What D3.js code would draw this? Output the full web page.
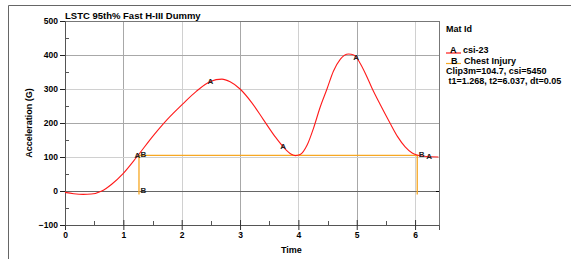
<!DOCTYPE html>
<html>
<head>
<meta charset="utf-8">
<script src="https://cdn.jsdelivr.net/npm/d3@7"></script>
<style>
  body { margin: 0; background: #fff; }
  svg { display: block; font-family: "Liberation Sans", Arial, sans-serif; }
  .tick text { font-size: 8.5px; font-weight: bold; fill: #000; }
</style>
</head>
<body>
<svg id="chart"></svg>
<script>
// curve A: csi-23 acceleration (G) vs time
const timeA = [0, 0.15, 0.31, 0.45, 0.63, 0.8, 1.0, 1.23, 1.5, 1.75, 2.03, 2.25, 2.49, 2.69, 2.83, 3.0, 3.2, 3.4, 3.6, 3.75, 3.88, 3.95, 4.03, 4.15, 4.26, 4.37, 4.49, 4.6, 4.72, 4.86, 4.95, 5.05, 5.15, 5.26, 5.4, 5.57, 5.7, 5.83, 5.95, 6.03, 6.15, 6.4];
const accelA = [-4, -8, -10, -9, 0, 20, 52, 100, 160, 210, 258, 293, 322, 329, 321, 300, 260, 210, 160, 128, 108, 104, 107, 135, 185, 245, 300, 352, 388, 403, 400, 378, 345, 303, 255, 200, 160, 130, 112, 106, 102, 100];
// curve B: chest injury window
const timeB = [1.268, 1.268, 6.037, 6.037];
const accelB = [-10, 104.7, 104.7, -10];
// marker labels
const labelTimesA = [1.24, 2.49, 3.74, 4.99, 6.24];
const labelTimesB = [1.268, 1.268, 6.037];
const labelValuesB = [104.7, 0, 104.7];

const xTicks = [0, 1, 2, 3, 4, 5, 6];
const xMinor = [0.5, 1.5, 2.5, 3.5, 4.5, 5.5];
const yTicks = [-100, 0, 100, 200, 300, 400, 500];
const yMinor = [-50, 50, 150, 250, 350, 450];

const legendLines = ["Clip3m=104.7, csi=5450", " t1=1.268, t2=6.037, dt=0.05"];

const W = 571, H = 259;
const margin = { top: 21, right: 132, bottom: 34, left: 65 };
const width = W - margin.left - margin.right;
const height = H - margin.top - margin.bottom;

const svg = d3.select("#chart").attr("width", W).attr("height", H);

// outer frame
svg.append("path")
  .attr("d", `M8.5,${H} V5.5 H${W}`)
  .attr("fill", "none")
  .attr("stroke", "#666");

const g = svg.append("g")
  .attr("transform", `translate(${margin.left},${margin.top})`);

const x = d3.scaleLinear().domain([0, 6.41]).range([0, width]);
const y = d3.scaleLinear().domain([-100, 500]).range([height, 0]);

// grid
g.selectAll(".vgrid").data(xTicks.slice(1)).enter().append("line")
  .attr("x1", d => Math.round(x(d)) + 0.5).attr("x2", d => Math.round(x(d)) + 0.5)
  .attr("y1", 0).attr("y2", height)
  .attr("stroke", (d, i) => i % 2 ? "#d0d0d0" : "#a8a8a8");
g.selectAll(".hgrid").data(yTicks.filter(d => d > -100 && d < 500 && d !== 0)).enter().append("line")
  .attr("x1", 0).attr("x2", width)
  .attr("y1", d => Math.round(y(d)) + 0.5).attr("y2", d => Math.round(y(d)) + 0.5)
  .attr("stroke", (d, i) => i % 2 ? "#a8a8a8" : "#d0d0d0");

// zero line
g.append("line")
  .attr("x1", 0).attr("x2", width)
  .attr("y1", Math.round(y(0)) + 0.5).attr("y2", Math.round(y(0)) + 0.5)
  .attr("stroke", "#666");
g.append("line")
  .attr("x1", width - 3).attr("x2", width)
  .attr("y1", Math.round(y(0)) + 0.5).attr("y2", Math.round(y(0)) + 0.5)
  .attr("stroke", "#000");

// plot frame
g.append("rect")
  .attr("x", 0.5).attr("y", 0.5)
  .attr("width", width).attr("height", height)
  .attr("fill", "none").attr("stroke", "#777");

// minor ticks
g.selectAll(".xminor").data(xMinor).enter().append("line")
  .attr("x1", d => Math.round(x(d)) + 0.5).attr("x2", d => Math.round(x(d)) + 0.5)
  .attr("y1", height).attr("y2", height - 4)
  .attr("stroke", "#555");
g.selectAll(".yminor").data(yMinor).enter().append("line")
  .attr("x1", 0).attr("x2", 4)
  .attr("y1", d => Math.round(y(d)) + 0.5).attr("y2", d => Math.round(y(d)) + 0.5)
  .attr("stroke", "#555");

// axes
const xAxis = g.append("g")
  .attr("transform", `translate(0,${height})`)
  .call(d3.axisBottom(x).tickValues(xTicks).tickFormat(d3.format("d")).tickSize(5).tickPadding(2));
xAxis.select(".domain").attr("stroke", "#555");
xAxis.selectAll(".tick line").attr("y1", -5).attr("stroke", "#333");

const yAxis = g.append("g")
  .call(d3.axisLeft(y).tickValues(yTicks).tickFormat(d3.format("d")).tickSize(5).tickPadding(2));
yAxis.select(".domain").attr("stroke", "#555");
yAxis.selectAll(".tick line").attr("stroke", "#222");

// curves
const dataA = timeA.map((t, i) => [t, accelA[i]]);
const dataB = timeB.map((t, i) => [t, accelB[i]]);

g.append("path")
  .datum(dataB)
  .attr("fill", "none")
  .attr("stroke", "#f7a823")
  .attr("stroke-width", 1.3)
  .attr("d", d3.line().x(d => x(d[0])).y(d => y(d[1])));

g.append("path")
  .datum(dataA)
  .attr("fill", "none")
  .attr("stroke", "#ff1a1a")
  .attr("stroke-width", 1.1)
  .attr("d", d3.line().curve(d3.curveMonotoneX).x(d => x(d[0])).y(d => y(d[1])));

// curve labels
const interpA = t => {
  const i = d3.bisectRight(timeA, t);
  const t0 = timeA[i - 1], t1 = timeA[i];
  return accelA[i - 1] + (accelA[i] - accelA[i - 1]) * (t - t0) / (t1 - t0);
};
g.selectAll(".labA").data(labelTimesA).enter().append("text")
  .attr("x", d => x(d))
  .attr("y", d => y(interpA(d)) + 2)
  .attr("text-anchor", "middle")
  .attr("font-size", 8)
  .attr("font-weight", "bold")
  .attr("fill", "#222")
  .text("A");
g.selectAll(".labB").data(labelTimesB).enter().append("text")
  .attr("x", d => x(d) + 1.5)
  .attr("y", (d, i) => y(labelValuesB[i]) + 2)
  .attr("font-size", 8)
  .attr("font-weight", "bold")
  .attr("fill", "#222")
  .text("B");

// title and axis labels
svg.append("text")
  .attr("x", 65).attr("y", 19)
  .attr("font-size", 9.5).attr("font-weight", "bold")
  .text("LSTC 95th% Fast H-III Dummy");

svg.append("text")
  .attr("x", margin.left + x(3.88)).attr("y", 253)
  .attr("text-anchor", "middle")
  .attr("font-size", 9).attr("font-weight", "bold")
  .text("Time");

svg.append("text")
  .attr("transform", "rotate(-90)")
  .attr("x", -123).attr("y", 32)
  .attr("text-anchor", "middle")
  .attr("font-size", 9).attr("font-weight", "bold")
  .text("Acceleration (G)");

// legend
const lg = svg.append("g").attr("font-size", 9).attr("font-weight", "bold");
lg.append("text").attr("x", 446).attr("y", 31.5).text("Mat Id");
lg.append("line").attr("x1", 446).attr("x2", 461).attr("y1", 53).attr("y2", 53)
  .attr("stroke", "#ff1a1a").attr("stroke-width", 1.2);
lg.append("text").attr("x", 450).attr("y", 53).text("A");
lg.append("text").attr("x", 463).attr("y", 53).text("csi-23");
lg.append("line").attr("x1", 446).attr("x2", 461).attr("y1", 63.5).attr("y2", 63.5)
  .attr("stroke", "#f7a823").attr("stroke-width", 1.2);
lg.append("text").attr("x", 451).attr("y", 63.5).text("B");
lg.append("text").attr("x", 464).attr("y", 63.5).text("Chest Injury");
lg.selectAll(".info").data(legendLines).enter().append("text")
  .attr("x", 446)
  .attr("y", (d, i) => 74 + i * 10)
  .attr("xml:space", "preserve")
  .style("white-space", "pre")
  .text(d => d);
</script>
</body>
</html>
